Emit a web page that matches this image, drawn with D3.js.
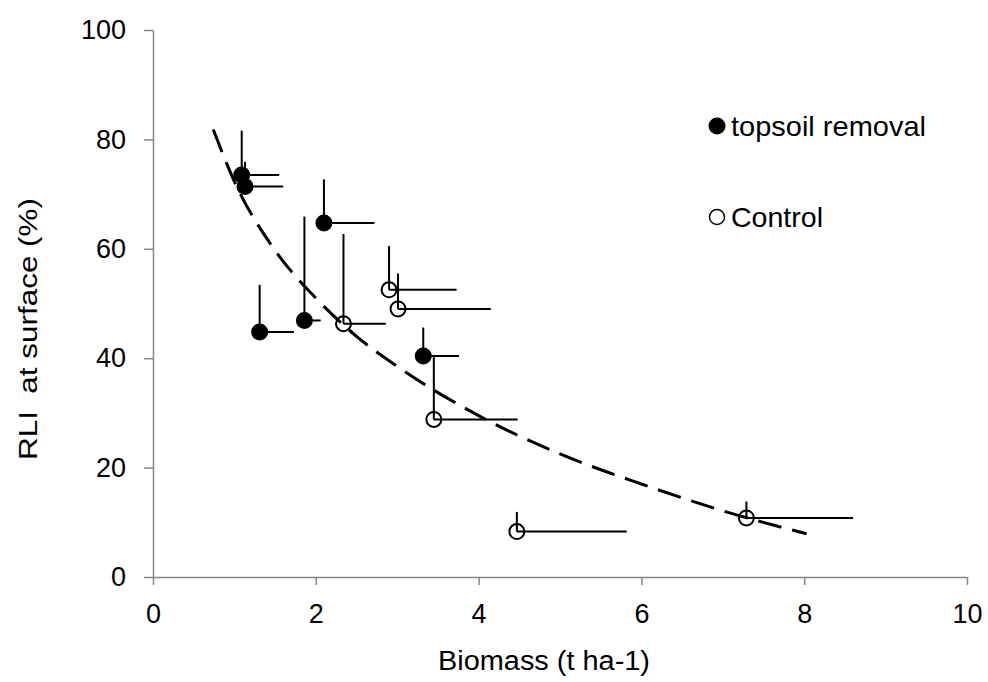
<!DOCTYPE html>
<meta charset="utf-8">
<style>
  body { margin: 0; background: #fff; }
  text { font-family: "Liberation Sans", Arial, sans-serif; fill: #000; }
</style>
<body>
<div id="chart"></div>
<script src="https://d3js.org/d3.v7.min.js"></script>
<script>
  // topsoil removal (filled)
  const removalX = [1.09, 1.13, 2.10, 1.31, 1.86, 3.32];
  const removalY = [73.5, 71.4, 64.7, 44.8, 46.9, 40.4];
  const removalYErr = [8.1, 4.5, 8.0, 8.6, 19.0, 5.2];
  const removalXErr = [0.46, 0.47, 0.62, 0.42, 0.20, 0.44];

  // control (open)
  const controlX = [2.34, 2.90, 3.01, 3.45, 4.47, 7.29];
  const controlY = [46.3, 52.5, 49.0, 28.8, 8.3, 10.8];
  const controlYErr = [16.4, 8.0, 6.5, 11.4, 3.6, 3.0];
  const controlXErr = [0.52, 0.83, 1.14, 1.03, 1.35, 1.31];

  // dashed trend line
  const trendX = [0.74, 1.0, 1.5, 2.0, 2.5, 3.0, 4.0, 5.0, 6.0, 7.0, 8.03];
  const trendY = [81.8, 72.3, 59.7, 51.0, 44.0, 38.5, 29.5, 22.5, 17.0, 12.1, 7.9];

  const xTicks = [0, 2, 4, 6, 8, 10];
  const yTicks = [0, 20, 40, 60, 80, 100];

  const W = 988, H = 682;
  const svg = d3.select('#chart').append('svg')
      .attr('width', W).attr('height', H);

  const x = d3.scaleLinear().domain([0, 10]).range([153, 967]);
  const y = d3.scaleLinear().domain([0, 100]).range([577, 30]);

  // axes
  const gx = svg.append('g').attr('transform', 'translate(0,577)')
      .call(d3.axisBottom(x).tickValues(xTicks).tickSizeInner(8).tickSizeOuter(0).tickPadding(19));
  const gy = svg.append('g').attr('transform', 'translate(153,0)')
      .call(d3.axisLeft(y).tickValues(yTicks).tickSizeInner(9).tickSizeOuter(0).tickPadding(18));
  [gx, gy].forEach(g => {
    g.select('.domain').attr('stroke', '#868686').attr('stroke-width', 1.5);
    g.selectAll('.tick line').attr('stroke', '#868686').attr('stroke-width', 1.5);
    g.selectAll('.tick text').attr('font-size', 27).attr('font-family', '"Liberation Sans", Arial, sans-serif').attr('fill', '#000');
  });

  // trend
  const trend = trendX.map((v, i) => [v, trendY[i]]);
  svg.append('path')
      .attr('d', d3.line().x(d => x(d[0])).y(d => y(d[1])).curve(d3.curveMonotoneX)(trend))
      .attr('fill', 'none').attr('stroke', '#000').attr('stroke-width', 3)
      .attr('stroke-dasharray', '24,11');

  function series(xs, ys, xe, ye, filled) {
    const pts = xs.map((v, i) => ({ x: v, y: ys[i], xe: xe[i], ye: ye[i] }));
    const g = svg.append('g');
    g.selectAll('line.v').data(pts).enter().append('line')
        .attr('x1', d => x(d.x)).attr('x2', d => x(d.x))
        .attr('y1', d => y(d.y)).attr('y2', d => y(d.y + d.ye))
        .attr('stroke', '#000').attr('stroke-width', 2);
    g.selectAll('line.h').data(pts).enter().append('line')
        .attr('x1', d => x(d.x)).attr('x2', d => x(d.x + d.xe))
        .attr('y1', d => y(d.y)).attr('y2', d => y(d.y))
        .attr('stroke', '#000').attr('stroke-width', 2);
    g.selectAll('circle').data(pts).enter().append('circle')
        .attr('cx', d => x(d.x)).attr('cy', d => y(d.y))
        .attr('r', filled ? 8.5 : 7.5)
        .attr('fill', filled ? '#000' : 'none')
        .attr('stroke', '#000').attr('stroke-width', filled ? 0 : 2);
  }
  series(removalX, removalY, removalXErr, removalYErr, true);
  series(controlX, controlY, controlXErr, controlYErr, false);

  // titles
  svg.append('text').attr('x', 544).attr('y', 670).attr('text-anchor', 'middle')
      .attr('font-size', 27).attr('textLength', 212).attr('lengthAdjust', 'spacingAndGlyphs')
      .text('Biomass (t ha-1)');
  svg.append('text').attr('transform', 'translate(37,329) rotate(-90)')
      .attr('text-anchor', 'middle').attr('font-size', 26)
      .attr('textLength', 262).attr('lengthAdjust', 'spacingAndGlyphs')
      .style('white-space', 'pre').text('RLI  at surface (%)');

  // legend
  const legend = [{ label: 'topsoil removal', filled: true, cy: 126, len: 195 },
                  { label: 'Control', filled: false, cy: 217, len: 92 }];
  const lg = svg.append('g');
  lg.selectAll('circle').data(legend).enter().append('circle')
      .attr('cx', 717).attr('cy', d => d.cy).attr('r', d => d.filled ? 8.5 : 7.5)
      .attr('fill', d => d.filled ? '#000' : 'none')
      .attr('stroke', '#000').attr('stroke-width', d => d.filled ? 0 : 1.5);
  lg.selectAll('text').data(legend).enter().append('text')
      .attr('x', 731).attr('y', d => d.cy + 10).attr('font-size', 28)
      .attr('textLength', d => d.len).attr('lengthAdjust', 'spacingAndGlyphs')
      .text(d => d.label);
</script>
